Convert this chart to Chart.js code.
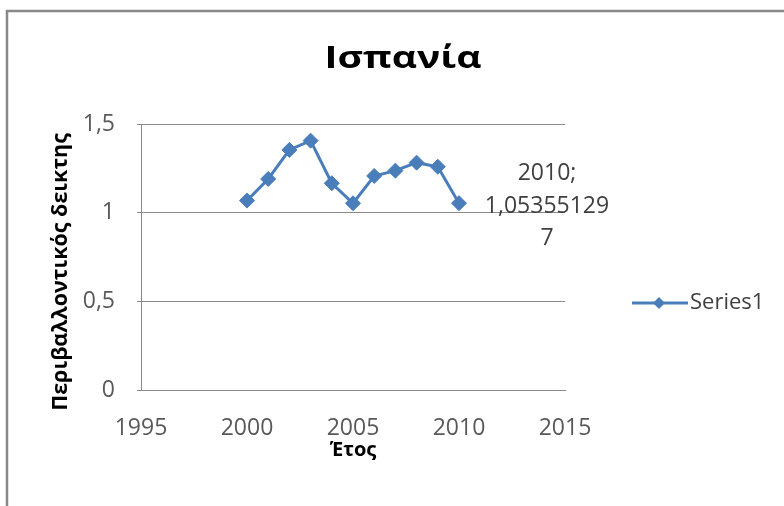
<!DOCTYPE html>
<html>
<head>
<meta charset="utf-8">
<script src="https://cdn.jsdelivr.net/npm/chart.js@4.4.1/dist/chart.umd.min.js"></script>
<style>
  html, body { margin: 0; padding: 0; background: #fff; }
</style>
</head>
<body>
<canvas id="ispania" width="784" height="506"></canvas>
<script>
const chartTitle = 'Ισπανία';
const xTitle = 'Έτος';
const yTitle = 'Περιβαλλοντικός δεικτης';
const seriesName = 'Series1';

const years = [2000, 2001, 2002, 2003, 2004, 2005, 2006, 2007, 2008, 2009, 2010];
const values = [1.068, 1.19, 1.354, 1.406, 1.166, 1.053, 1.207, 1.237, 1.282, 1.259, 1.053551297];
const xTicks = [1995, 2000, 2005, 2010, 2015];
const yTicks = [0, 0.5, 1, 1.5];

const blue = '#4a7ebb';
const gridGray = '#8a8a8a';
const textGray = '#595959';
const fontName = "'Open Sans', 'Noto Sans', sans-serif";

const fmt = v => String(v).replace('.', ',');

// frame, title, y title, legend, label for the last point
const extras = {
    id: 'extras',
    beforeDraw(chart) {
        const ctx = chart.ctx;
        ctx.save();
        ctx.fillStyle = '#fff';
        ctx.fillRect(0, 0, chart.width, chart.height);
        ctx.strokeStyle = '#888';
        ctx.lineWidth = 2.5;
        ctx.strokeRect(7, 11, chart.width + 20, chart.height + 20);
        ctx.restore();
    },
    afterDraw(chart) {
        const ctx = chart.ctx;
        ctx.save();

        // title, a bit wider than the font is
        ctx.font = 'bold 31px ' + fontName;
        ctx.fillStyle = '#000';
        ctx.textBaseline = 'alphabetic';
        ctx.textAlign = 'center';
        const w = ctx.measureText(chartTitle).width;
        ctx.save();
        ctx.translate(403, 68);
        ctx.scale(157 / w, 1);
        ctx.fillText(chartTitle, 0, 0);
        ctx.restore();

        // y axis title
        ctx.save();
        ctx.translate(61, 272);
        ctx.rotate(-Math.PI / 2);
        ctx.font = 'bold 21.5px ' + fontName;
        ctx.textBaseline = 'middle';
        ctx.fillText(yTitle, 0, 0);
        ctx.restore();

        // legend
        const ds = chart.data.datasets[0];
        ctx.strokeStyle = ds.borderColor;
        ctx.lineWidth = 3;
        ctx.beginPath();
        ctx.moveTo(632, 303);
        ctx.lineTo(688, 303);
        ctx.stroke();
        ctx.fillStyle = ds.pointBackgroundColor;
        ctx.beginPath();
        ctx.moveTo(659, 297); ctx.lineTo(665, 303); ctx.lineTo(659, 309); ctx.lineTo(653, 303);
        ctx.closePath();
        ctx.fill();
        ctx.fillStyle = '#404040';
        ctx.font = '22px ' + fontName;
        ctx.textAlign = 'left';
        ctx.textBaseline = 'middle';
        ctx.fillText(ds.label, 690, 303);

        // data label of the last point
        const meta = chart.getDatasetMeta(0);
        const last = meta.data[meta.data.length - 1];
        const i = years.length - 1;
        ctx.font = '23px ' + fontName;
        ctx.textAlign = 'center';
        ctx.textBaseline = 'alphabetic';
        ctx.fillStyle = '#404040';
        const full = fmt(values[i]);
        const lines = [years[i] + ';', full.slice(0, 10), full.slice(10)];
        lines.forEach((t, k) => ctx.fillText(t, last.x + 88, last.y - 23 + k * 32.5));
        ctx.restore();
    }
};

const myChart = new Chart(document.getElementById('ispania'), {
    type: 'line',
    data: {
        datasets: [{
            label: seriesName,
            data: years.map((y, k) => ({x: y, y: values[k]})),
            borderColor: blue,
            backgroundColor: blue,
            borderWidth: 3,
            tension: 0,
            pointStyle: 'rectRot',
            pointRadius: 7.5,
            pointBackgroundColor: blue,
            pointBorderColor: blue,
            pointBorderWidth: 1
        }]
    },
    options: {
        responsive: false,
        animation: false,
        layout: {padding: {left: 40, top: 124, right: 219, bottom: 40}},
        plugins: {
            legend: {display: false},
            title: {display: false},
            tooltip: {enabled: false}
        },
        scales: {
            x: {
                type: 'linear',
                min: 1995,
                max: 2015,
                afterBuildTicks: s => { s.ticks = xTicks.map(v => ({value: v})); },
                afterFit: s => { s.height = 506 - 40 - 390; },
                grid: {display: false},
                border: {display: true, color: gridGray, width: 1},
                ticks: {
                    color: textGray,
                    font: {family: fontName, size: 23},
                    padding: 17,
                    maxRotation: 0,
                    callback: v => String(v)
                },
                title: {
                    display: true,
                    text: xTitle,
                    color: '#000',
                    font: {family: fontName, size: 20, weight: 'bold'},
                    padding: {top: 0}
                }
            },
            y: {
                min: 0,
                max: 1.5,
                afterBuildTicks: s => { s.ticks = yTicks.map(v => ({value: v})); },
                afterFit: s => { s.width = 141 - 40; },
                grid: {color: gridGray, tickLength: 4, lineWidth: 1},
                border: {display: true, color: gridGray, width: 1},
                ticks: {
                    color: textGray,
                    font: {family: fontName, size: 23},
                    padding: 22,
                    callback: v => fmt(v)
                }
            }
        }
    },
    plugins: [extras]
});
</script>
</body>
</html>
